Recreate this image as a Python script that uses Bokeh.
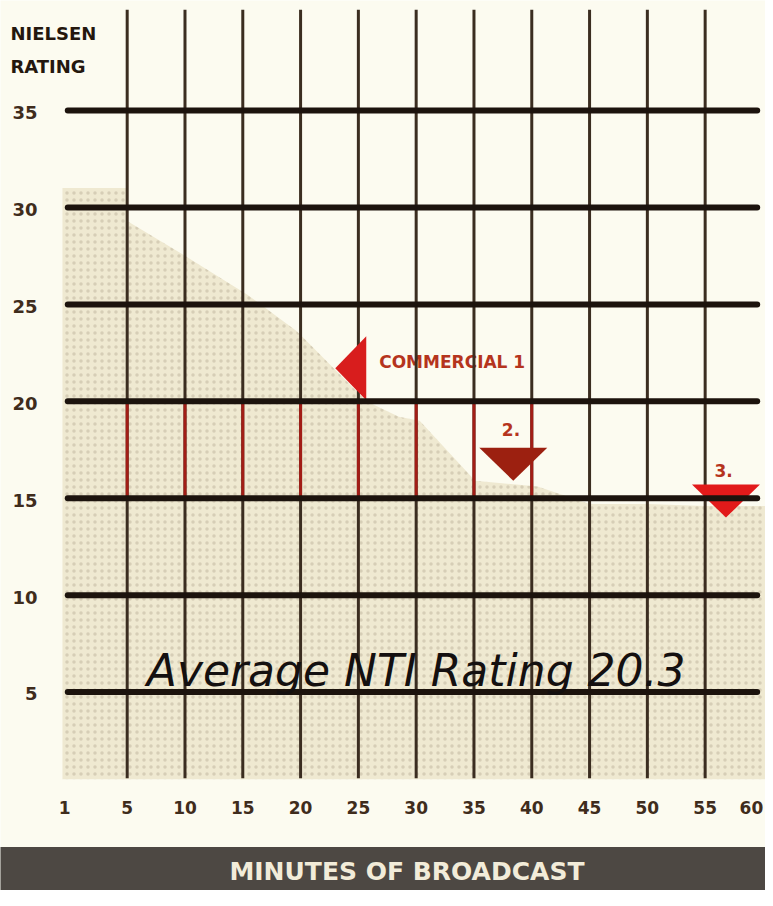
from bokeh.plotting import figure
from bokeh.models import Range1d
from bokeh.embed import file_html
from bokeh.resources import INLINE
from bokeh.core.properties import value

# ---------------- data ----------------
x_ticks = [0, 5, 10, 15, 20, 25, 30, 35, 40, 45, 50, 55, 60]
x_tick_labels = ["1", "5", "10", "15", "20", "25", "30", "35", "40", "45", "50", "55", "60"]
y_ticks = [5, 10, 15, 20, 25, 30, 35]
y_tick_labels = ["5", "10", "15", "20", "25", "30", "35"]

# audience rating curve (shaded area top)
curve_minute = [-0.6, 4.9, 5.0, 10.3, 15.4, 19.7, 25.7, 28.5, 30.3, 35.1, 40.5, 45.0, 50.0, 55.0, 60.5]
curve_rating = [31.0, 31.0, 29.3, 27.4, 25.5, 23.6, 20.0, 19.2, 19.0, 15.9, 15.6, 14.7, 14.7, 14.6, 14.6]

# commercial markers (tip of each triangle)
comm_labels = ["COMMERCIAL 1", "2.", "3."]
comm_minute = [23.0, 38.4, 56.8]
comm_rating = [21.7, 15.9, 14.0]
comm_direction = ["left", "down", "down"]
comm_colors = ["#d81d1d", "#9c2010", "#e21a1a"]

average_text = "Average NTI Rating 20.3"
x_title = "MINUTES OF BROADCAST"
y_title = ["NIELSEN", "RATING"]

# ---------------- figure ----------------
W, H = 765, 890
xr = Range1d(-5.96, 60.22)
yr = Range1d(-5.24, 40.68)
px_x = W / (xr.end - xr.start)   # pixels per minute
px_y = H / (yr.end - yr.start)   # pixels per rating point

p = figure(width=W, height=H, x_range=xr, y_range=yr, output_backend="svg",
           toolbar_location=None, min_border=0)
p.axis.visible = False
p.grid.visible = False
p.outline_line_color = None
p.background_fill_color = "#fcfbf0"
p.border_fill_color = "#fcfbf0"

FONT = value("DejaVu Sans")

# shaded audience area
p.varea(x=curve_minute, y1=[0.5] * len(curve_minute), y2=curve_rating,
        fill_color="#efe9d1", fill_alpha=1.0,
        hatch_pattern="dot", hatch_color="#5a4a30", hatch_alpha=0.17,
        hatch_scale=7, hatch_weight=1)

# commercial labels (under grid lines)
lab_dx = [3.8, -0.2, -0.2]
lab_dy = [0.35, 2.65, 2.45]
lab_align = ["left", "center", "center"]
lab_size = ["17px", "17px", "17px"]
for i, lab in enumerate(comm_labels):
    p.text(x=[comm_minute[i] + lab_dx[i]], y=[comm_rating[i] + lab_dy[i]], text=[lab],
           text_font=FONT, text_font_style="bold", text_font_size=lab_size[i],
           text_color="#b5341d", text_align=lab_align[i], text_baseline="middle")

# vertical grid lines
vx = x_ticks[1:-1]
p.segment(x0=vx, x1=vx, y0=[0.55] * len(vx), y1=[40.2] * len(vx),
          line_color="#3b2d20", line_width=3)
# red segments in the 15-20 band
rx = [t for t in x_ticks if 5 <= t <= 40]
p.segment(x0=rx, x1=rx, y0=[15] * len(rx), y1=[20] * len(rx),
          line_color="#a21d16", line_width=3)

# commercial triangles (shape given in pixels)
xs, ys = [], []
for m, r, d in zip(comm_minute, comm_rating, comm_direction):
    if d == "left":
        off = [(0, 0), (31, 32), (31, -32)]
    else:
        off = [(0, 0), (-34, 33), (34, 33)]
    xs.append([m + ox / px_x for ox, oy in off])
    ys.append([r + oy / px_y for ox, oy in off])
p.patches(xs=xs, ys=ys, fill_color=comm_colors, line_color=None)

# horizontal rating lines
p.segment(x0=[-0.14] * len(y_ticks), x1=[59.5] * len(y_ticks), y0=y_ticks, y1=y_ticks,
          line_color="#1c130d", line_width=6, line_cap="round")

# y tick labels
p.text(x=[-2.75] * len(y_ticks), y=[v - 0.1 for v in y_ticks], text=y_tick_labels,
       text_font=FONT, text_font_style="bold", text_font_size="18px",
       text_color="#3f2c1c", text_align="right", text_baseline="middle")

# y title
p.text(x=[-5.1, -5.1], y=[39.0, 37.25], text=y_title,
       text_font=FONT, text_font_style="bold", text_font_size="18px",
       text_color="#24170e", text_align="left", text_baseline="middle")

# x tick labels (end labels nudged inward as in the original)
label_nudge = [-0.4, 0, 0, 0, 0, 0, 0, 0, 0, 0, 0, 0, -1.0]
p.text(x=[t + n for t, n in zip(x_ticks, label_nudge)], y=[-0.95] * len(x_ticks),
       text=x_tick_labels,
       text_font=FONT, text_font_style="bold", text_font_size="17px",
       text_color="#3f2c1c", text_align="center", text_baseline="middle")

# bottom banner
p.quad(left=[-7], right=[61], bottom=[-6], top=[-3.0], fill_color="#4d4843", line_color=None)
p.text(x=[29.2], y=[-4.25], text=[x_title],
       text_font=FONT, text_font_style="bold", text_font_size="25px",
       text_color="#f2ecd9", text_align="center", text_baseline="middle")

# average annotation
p.text(x=[30.0], y=[6.1], text=[average_text],
       text_font=FONT, text_font_style="italic", text_font_size="44px",
       text_color="#141010", text_align="center", text_baseline="alphabetic")

open("out.html", "w").write(file_html(p, INLINE))
